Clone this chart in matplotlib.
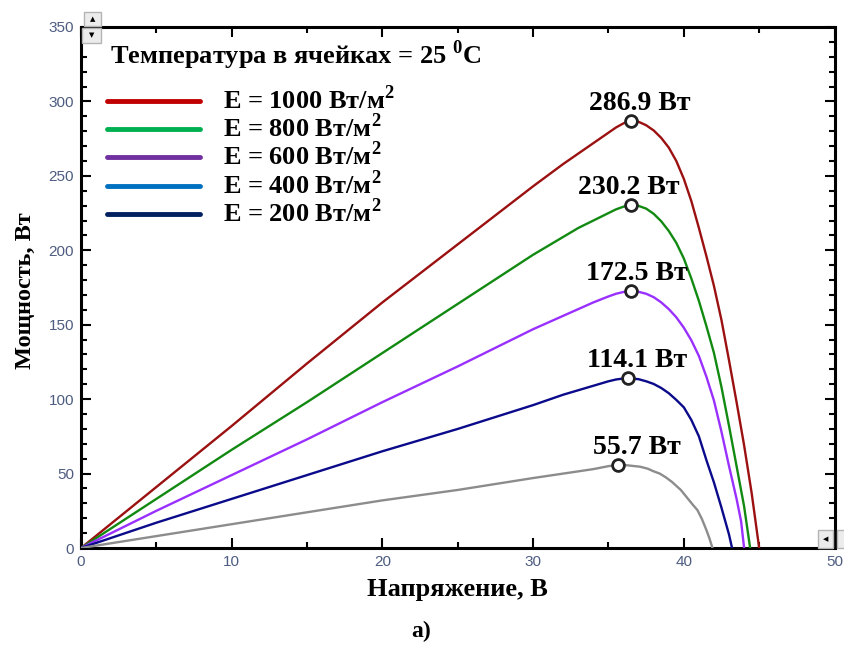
import numpy as np
import matplotlib.pyplot as plt
from matplotlib.ticker import MultipleLocator
from matplotlib.patches import Rectangle

plt.rcParams['mathtext.fontset'] = 'custom'
plt.rcParams['mathtext.rm'] = 'Liberation Serif:bold'
plt.rcParams['mathtext.bf'] = 'Liberation Serif:bold'

# P-V curves, cell temperature 25 C
v_1000 = [0, 5, 10, 15, 20, 25, 30, 31, 32, 33, 34, 35, 35.5, 36, 36.5, 37, 37.5, 38, 38.5, 39, 39.5,
          40, 40.5, 41, 41.5, 42, 42.5, 43, 43.5, 44, 44.5, 45.0]
p_1000 = [0, 41, 82, 124, 165, 204, 243, 250.5, 258, 265, 272, 279, 282.5, 285.3, 286.9, 286.3, 284, 280.5,
          275.5, 269, 260, 248, 233, 215, 196, 176, 153, 126, 98, 69, 37, 0]

v_800 = [0, 5, 10, 15, 20, 25, 30, 31, 32, 33, 34, 35, 35.5, 36, 36.5, 37, 37.5, 38, 38.5, 39, 39.5,
         40, 40.5, 41, 41.5, 42, 42.5, 43, 43.5, 44, 44.4]
p_800 = [0, 33, 66, 98, 131, 164, 197, 203, 209, 215, 220, 225, 227.5, 229.3, 230.2, 229.8, 228, 224.5,
         219.5, 213, 205, 194.5, 181, 166, 149, 131, 108, 82, 55, 28, 0]

v_600 = [0, 5, 10, 15, 20, 25, 30, 31, 32, 33, 34, 35, 35.5, 36, 36.5, 37, 37.5, 38, 38.5, 39, 39.5,
         40, 40.5, 41, 41.5, 42, 42.5, 43, 43.5, 43.8, 44.0]
p_600 = [0, 25, 49, 73, 98, 122, 147, 151.5, 156, 160.5, 165, 169, 170.8, 172, 172.5, 172.1, 170.8, 168.5,
         165, 160.5, 155, 148, 139.5, 129, 115, 99, 78, 55, 33, 18, 0]

v_400 = [0, 5, 10, 15, 20, 25, 30, 31, 32, 33, 34, 35, 35.5, 36, 36.3, 37, 37.5, 38, 38.5, 39, 39.5,
         40, 40.5, 41, 41.5, 42, 42.5, 43, 43.2]
p_400 = [0, 17, 33, 49, 65, 80, 96, 99.5, 103, 106, 109, 112, 113.2, 113.9, 114.1, 113.4, 112, 110.2,
         107.5, 104, 99.5, 94.5, 86, 75, 59, 44, 27, 9, 0]

v_200 = [0, 5, 10, 15, 20, 25, 30, 31, 32, 33, 34, 35, 35.6, 36.2, 37.1, 37.6, 38.0, 38.4, 38.8, 39.2,
         39.8, 40.2, 40.6, 40.9, 41.2, 41.5, 41.7, 41.9]
p_200 = [0, 8, 16, 24, 32, 39, 47, 48.5, 50, 51.5, 53, 55, 55.7, 55.6, 54.6, 53.3, 51.5, 50, 47.5, 44.5,
         39, 34, 29, 25.5, 19.5, 12, 6.5, 0]

curve_colors = ['#9b1010', '#128a12', '#9a30ff', '#0a0a8a', '#8c8c8c']
legend_labels = ['1000', '800', '600', '400', '200']
legend_colors = ['#c00000', '#00b050', '#7030a0', '#0070c0', '#002060']
label_dx = [6.5, -1.5, 4.3, 6.5, 13.7]

fig = plt.figure(figsize=(8.45, 6.52), dpi=100)
ax = fig.add_axes([0.0959, 0.1595, 0.8917, 0.7991])

curves = [(v_1000, p_1000), (v_800, p_800), (v_600, p_600), (v_400, p_400), (v_200, p_200)]
for (v, p), c, dx in zip(curves, curve_colors, label_dx):
    ax.plot(v, p, color=c, lw=1.7, zorder=3, solid_joinstyle='round')
    i = int(np.argmax(p))
    ax.plot(v[i], p[i], 'o', ms=8.5, mfc='white', mec='#222222', mew=2, zorder=5)
    ax.annotate('%.1f Вт' % p[i], (v[i], p[i]), xytext=(dx, 8), textcoords='offset points',
                ha='center', va='baseline', fontsize=20, fontweight='bold',
                family='Liberation Serif', zorder=6)

ax.set_xlim(0, 50)
ax.set_ylim(0, 350)
ax.xaxis.set_major_locator(MultipleLocator(10))
ax.xaxis.set_minor_locator(MultipleLocator(5))
ax.yaxis.set_major_locator(MultipleLocator(50))
ax.yaxis.set_minor_locator(MultipleLocator(10))
ax.tick_params(which='both', direction='in', top=True, right=True, width=1.5,
               colors='black', labelcolor='#4d5c80', labelsize=11)
ax.tick_params(which='major', length=7, pad=5)
ax.tick_params(which='minor', length=4)
for s in ax.spines.values():
    s.set_linewidth(2.2)

for t in ax.get_xticklabels() + ax.get_yticklabels():
    t.set_family('Liberation Sans')

ax.set_xlabel('Напряжение, В', family='Liberation Serif', fontweight='bold', fontsize=19)
ax.set_ylabel('Мощность, Вт', family='Liberation Serif', fontweight='bold', fontsize=17.5)
ax.xaxis.set_label_coords(0.499, -0.058)
ax.yaxis.set_label_coords(-0.06, 0.493)

# legend drawn by hand
ax.text(1.93, 331.3, r'Температура в ячейках = 25 $^{0}$C', family='Liberation Serif',
        fontweight='bold', fontsize=19, va='center', ha='left')
for k, (lab, c) in enumerate(zip(legend_labels, legend_colors)):
    y = 300.4 - k * 19
    ax.plot([1.75, 7.9], [y, y], color=c, lw=3.5, solid_capstyle='round')
    ax.text(9.4, y + 1, r'E = %s Вт/м$^{2}$' % lab, family='Liberation Serif',
            fontweight='bold', fontsize=19, va='center', ha='left')

fig.text(0.498, 0.031, 'а)', family='Liberation Serif', fontweight='bold', fontsize=17,
         ha='center', va='center')

# scroll buttons of the plotting window
W, H = 845.0, 652.0
buttons = [(84, 12, 17, 14, '▲'), (82, 28, 19, 15, '▼'), (818, 530, 15, 18, '◀'), (837, 530, 10, 18, '')]
for x0, y0, w, h, sym in buttons:
    fig.add_artist(Rectangle((x0 / W, 1 - (y0 + h) / H), w / W, h / H, transform=fig.transFigure,
                             facecolor='#ececec', edgecolor='#b4b4b4', lw=1, zorder=10))
    if sym:
        fig.text((x0 + w / 2) / W, 1 - (y0 + h / 2) / H, sym, fontsize=5, ha='center', va='center',
                 zorder=11)

fig.savefig('out.png', dpi=100)
